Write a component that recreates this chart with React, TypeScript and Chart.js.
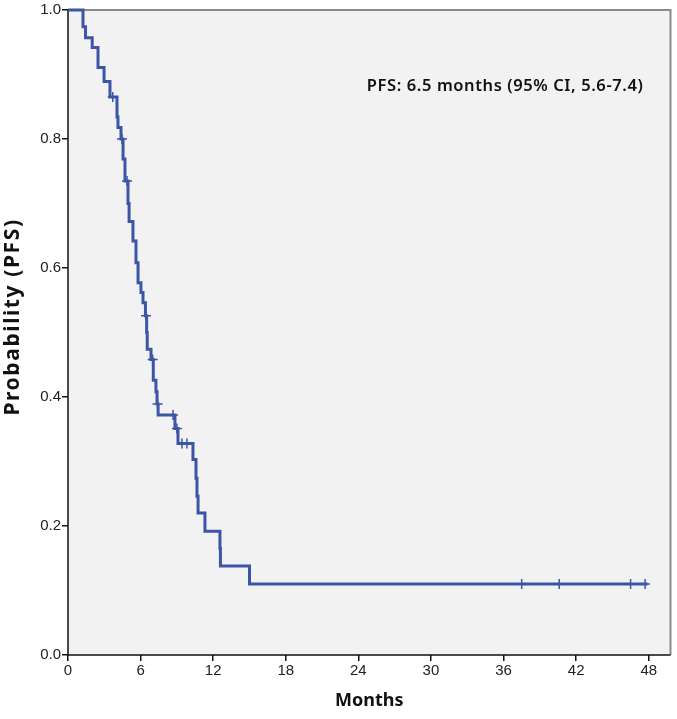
import React, { useEffect, useRef } from "react";
import { Chart, registerables } from "chart.js";

Chart.register(...registerables);

// Kaplan-Meier step points (months, survival after event)
const stepTimes = [0, 1.24, 1.45, 2.0, 2.48, 2.98, 3.47, 4.05, 4.13, 4.38, 4.55, 4.71, 4.96, 5.05, 5.37, 5.62, 5.79, 6.03, 6.2, 6.4, 6.5, 6.55, 6.86, 7.05, 7.27, 7.36, 7.45, 8.84, 9.09, 10.33, 10.58, 10.66, 10.75, 11.32, 12.56, 12.6, 15.0, 47.9];
const stepSurvival = [1.0, 0.974, 0.957, 0.942, 0.911, 0.889, 0.865, 0.834, 0.818, 0.8, 0.769, 0.735, 0.7, 0.672, 0.642, 0.608, 0.577, 0.562, 0.546, 0.526, 0.5, 0.474, 0.458, 0.426, 0.408, 0.389, 0.372, 0.351, 0.328, 0.303, 0.274, 0.246, 0.22, 0.192, 0.165, 0.138, 0.11, 0.11];

// Censored observations
const censorTimes = [3.7, 4.46, 4.88, 6.45, 7.0, 7.4, 8.68, 9.0, 9.42, 9.83, 37.5, 40.6, 46.5, 47.7];
const censorSurvival = [0.865, 0.8, 0.735, 0.526, 0.458, 0.389, 0.372, 0.351, 0.328, 0.328, 0.11, 0.11, 0.11, 0.11];

const xTicks = [0, 6, 12, 18, 24, 30, 36, 42, 48];
const yTicks = [0, 0.2, 0.4, 0.6, 0.8, 1.0];

const xTitle = "Months";
const yTitle = "Probability (PFS)";
const annotation = "PFS: 6.5 months (95% CI, 5.6-7.4)";

const LINE = "#3b56a6";
const TICK_FONT = '"Liberation Sans Narrow", "Liberation Sans", Arial, sans-serif';
const TITLE_FONT = '"Noto Sans", "Liberation Sans", Arial, sans-serif';

export default function App() {
  const ref = useRef<HTMLCanvasElement | null>(null);

  useEffect(() => {
    document.body.style.margin = "0";
    const canvas = ref.current;
    if (!canvas) return;

    const bgPlugin = {
      id: "kmDecor",
      beforeDatasetsDraw(chart: any) {
        const { ctx, chartArea, scales } = chart;
        ctx.save();
        ctx.fillStyle = "#f2f2f2";
        ctx.fillRect(chartArea.left, chartArea.top, chartArea.right - chartArea.left, chartArea.bottom - chartArea.top);
        // top and right frame
        ctx.strokeStyle = "#8a8a8a";
        ctx.lineWidth = 2;
        ctx.beginPath();
        ctx.moveTo(chartArea.left, chartArea.top);
        ctx.lineTo(chartArea.right, chartArea.top);
        ctx.lineTo(chartArea.right, chartArea.bottom);
        ctx.stroke();
        // left/bottom axes
        ctx.strokeStyle = "#111";
        ctx.lineWidth = 1.5;
        ctx.beginPath();
        ctx.moveTo(chartArea.left, chartArea.top);
        ctx.lineTo(chartArea.left, chartArea.bottom);
        ctx.lineTo(chartArea.right, chartArea.bottom);
        ctx.stroke();
        // annotation
        ctx.fillStyle = "#111";
        ctx.font = `600 16.5px ${TITLE_FONT}`;
        (ctx as any).letterSpacing = "0.6px";
        ctx.textAlign = "left";
        ctx.textBaseline = "middle";
        ctx.fillText(annotation, scales.x.getPixelForValue(24.7), scales.y.getPixelForValue(0.882));
        // y-axis title
        ctx.translate(13, 317);
        ctx.rotate(-Math.PI / 2);
        ctx.font = `bold 21px ${TITLE_FONT}`;
        (ctx as any).letterSpacing = "1.6px";
        ctx.textAlign = "center";
        ctx.textBaseline = "middle";
        ctx.fillText(yTitle, 0, 0);
        ctx.restore();
      },
    };

    const chart = new Chart(canvas, {
      type: "line",
      data: {
        datasets: [
          {
            label: "PFS",
            data: stepTimes.map((t, i) => ({ x: t, y: stepSurvival[i] })),
            stepped: "before",
            borderColor: LINE,
            borderWidth: 3,
            pointRadius: 0,
            fill: false,
            clip: 4,
          },
          {
            label: "Censored",
            type: "scatter",
            data: censorTimes.map((t, i) => ({ x: t, y: censorSurvival[i] })),
            pointStyle: "cross",
            pointRadius: 5,
            borderColor: LINE,
            backgroundColor: LINE,
            borderWidth: 1.5,
            showLine: false,
            clip: 6,
          } as any,
        ],
      },
      options: {
        animation: false,
        responsive: false,
        maintainAspectRatio: false,
        layout: { padding: { top: 4, right: 4, bottom: 0, left: 0 } },
        plugins: { legend: { display: false }, tooltip: { enabled: false } },
        scales: {
          x: {
            type: "linear",
            min: 0,
            max: 49.8,
            afterBuildTicks: (scale: any) => {
              scale.ticks = xTicks.map((v) => ({ value: v }));
            },
            afterFit: (scale: any) => {
              scale.height = 64;
            },
            grid: { display: true, drawOnChartArea: false, drawTicks: true, tickLength: 6, color: "#111", lineWidth: 1.5 },
            border: { display: false },
            ticks: {
              color: "#222",
              font: { family: TICK_FONT, size: 15 },
              padding: 1,
              callback: (v: any) => String(v),
            },
            title: {
              display: true,
              text: xTitle,
              color: "#111",
              font: { family: TITLE_FONT, size: 18, weight: "bold" },
              padding: { top: 0, bottom: 7 },
            },
          },
          y: {
            type: "linear",
            min: 0,
            max: 1,
            afterBuildTicks: (scale: any) => {
              scale.ticks = yTicks.map((v) => ({ value: v }));
            },
            afterFit: (scale: any) => {
              scale.width = 68;
            },
            grid: { display: true, drawOnChartArea: false, drawTicks: true, tickLength: 6, color: "#111", lineWidth: 1.5 },
            border: { display: false },
            ticks: {
              color: "#222",
              font: { family: TICK_FONT, size: 15 },
              padding: 1,
              callback: (v: any) => Number(v).toFixed(1),
            },
            title: { display: false },
          },
        },
      },
      plugins: [bgPlugin],
    });

    return () => chart.destroy();
  }, []);

  return (
    <div style={{ width: 677, height: 719, background: "#ffffff" }}>
      <canvas ref={ref} width={677} height={719} style={{ display: "block" }} />
    </div>
  );
}
